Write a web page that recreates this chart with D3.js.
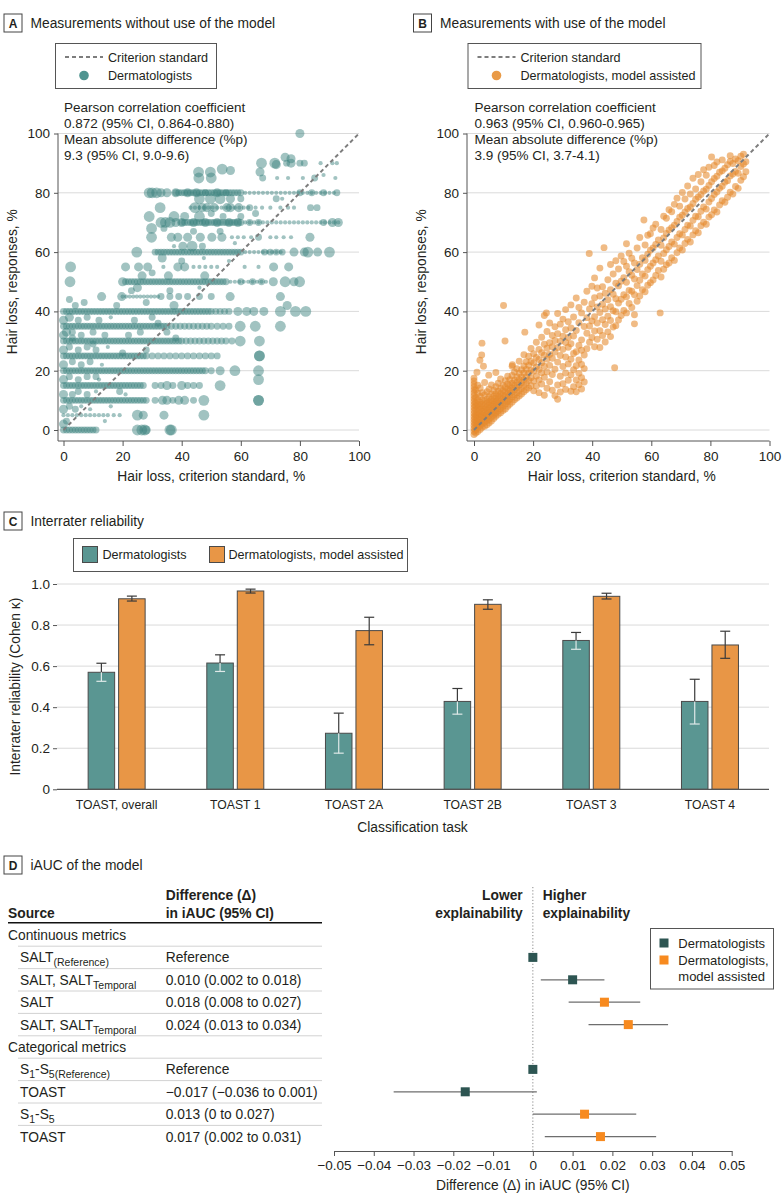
<!DOCTYPE html>
<html><head><meta charset="utf-8">
<script src="https://d3js.org/d3.v7.min.js"></script>
<style>html,body{margin:0;padding:0;background:#fff}svg{display:block}</style>
</head><body>
<svg id="chart" width="783" height="1203"></svg>
<script>
// ================= DATA =================
const scatterTicks = [0, 20, 40, 60, 80, 100];
const statsA = ["Pearson correlation coefficient", "0.872 (95% CI, 0.864-0.880)", "Mean absolute difference (%p)", "9.3 (95% CI, 9.0-9.6)"];
const statsB = ["Pearson correlation coefficient", "0.963 (95% CI, 0.960-0.965)", "Mean absolute difference (%p)", "3.9 (95% CI, 3.7-4.1)"];

// Panel A: dense rows of responses [response %, overlap count, criterion % values]
const aDense = [
  [0, 2, [0,1,2,3,4,5,6,7,8,9,10,11]],
  [5, 1, [0,1.5,3,4.5,6,7.5,9,10.5,12,13.5,15,17,19]],
  [10, 2, [0,1,2,3,4,5,6,7,8,9,10,11,12,13,14,15,16,17,18,19,20,21,22,23,24,25,26,27,28]],
  [15, 2, [0,1,2,3,4,5,6,7,8,9,10,11,12,13,14,15,16,17,18,19,20,21,22,23,24,25,26,27]],
  [20, 2, [0,1,2,3,4,5,6,7,8,9,10,11,12,13,14,15,16,17,18,19,20,21,22,23,24,25,26,27,28,29,30,31,32,33,34,35,36,37,38,39,40,41,42,43,44,45,46,47,48]],
  [25, 2, [0,1,2,3,4,5,6,7,8,9,10,11,12,13,14,15,16,17,18,19,20,21,22,23,24,25,26,27,28,30,32,34,36,38,40,42,44,46,48]],
  [30, 2, [0,1,2,3,4,5,6,7,8,9,10,11,12,13,14,15,16,17,18,19,20,21,22,23,24,25,26,27,28,29,30,31,32,33,34,35,36,37,38,39,40,41.5,43,44.5,46,47.5,49,50.5,52,53.5,55]],
  [35, 2, [0,1,2,3,4,5,6,7,8,9,10,11,12,13,14,15,16,17,18,19,20,21,22,23,24,25,26,27,28,29,30,31,32,33,34,35,36.5,38,39.5,41,42.5,44,45.5,47,48.5,50]],
  [40, 2, [0,1,2,3,4,5,6,7,8,9,10,11,12,13,14,15,16,17,18,19,20,21,22,23,24,25,26,27,28,29,30,31,32,33,34,35,36,37,38,39,40,41,42,43,44,45,46,47,48,49,50,51.5,53,54.5]],
  [45, 1, [20,21.2,22.4,23.6,24.8,26,27.2,28.4,29.6,30.8,32]],
  [50, 2, [21,22,23,24,25,26,27,28,29,30,31,32,33,34,35,36,37,38,39,40,41,42,43,44,45,46,47,48,49,50,51,52,53,54,55]],
  [50, 1, [56.5,58,59.5,61,62.5,64,65.5,67,68.5]],
  [60, 2, [31,32,33,34,35,36,37,38,39,40,41,42,43,44,45,46,47,48,49,50,51,52,53,54,55,56,57,58,59,60]],
  [60, 1, [61.5,63,64.5,66,67.5,69,70.5,72,73.5]],
  [70, 2, [40,41,42,43,44,45,46,47,48,49,50,51,52,53,54,55,56,57,58,59,60]],
  [70, 1, [61.5,63,64.5,66,67.5,69,70.5,72,73.5,75,76.5,78,79.5,81,82.5,84,85.5,87,88.5,90,91.5,93]],
  [75, 1, [43,44.5,46,47.5,49,50.5,52,53.5,55,56.5,58,59.5,61,62.5]],
  [80, 2, [38,39,40,41,42,43,44,45,46,47,48,49,50,51,52,53,54,55,56,57,58,59,60]],
  [80, 1, [61.5,63,64.5,66,67.5,69,70.5,72,73.5,75,76.5,78,79.5,81,82.5,84,85.5,87,88.5,90,91.5]]
];
// Panel A: individual points [criterion %, response %, overlap count]
const aSparse = [
  [80,100,3],[75,92,3],[77,91.5,3],
  [67,90,4],[71.5,90,4],[72,89.5,3],[75.5,90,2],[77,90,3],[80,90,2],[81.5,90,2],[87,90,1],[91,90,1],[92.5,90,1],
  [66.5,87,3],[53.7,88,4],[56.5,87.5,3],[45.7,87,4],[49.7,87,4],
  [45.8,85,4],[50,85,4],[67.4,85,2],[72.3,85,1],[76,85,1],[81,85,1],[85,85,2],[92,85,1],[88,86,1],
  [29,80,4],[30,80,4],[31.5,80,4],[33,80,3],[35,80,3],[38,80,3],[42,80,3],[45,80,3],[48,80,2],[52,80,3],[55,80,2],[80,80,2],[84,80,2],[88,80,2],[92.5,80,2],
  [46,78,4],[49.7,78,4],[53,78,4],[56.5,78,3],[72,78,2],[74,78,1],[60,78,2],
  [32.7,75,4],[44.5,75,4],[47,75,3],[48.5,75,3],[51,75,3],[55.3,75,3],[56.5,75,3],[59.3,75,3],[67.2,75,1],[70,75,1],[73.4,75,1],[76,75,1],[78,75,1],[83.6,75,2],[85.8,75,2],[65,75,1],[63,75,2],
  [29,72,4],[37.4,72,4],[41,72,3],[46,72,4],[50,73,2],[54,72,2],[60,72,2],[65,73,2],
  [33,70,4],[34.5,70,4],[36,70,4],[38,70,3],[40,70,3],[44,70,3],[48,70,3],[52,70,3],[56,70,3],[59,70,3],[63,70,2],[66,70,2],[88,70,2],[91,70,3],[93,70,3],
  [29.8,68,4],[34,68,2],[44,67,2],[53,67,2],
  [29.8,65,4],[36.5,65,3],[38.7,65,3],[42,65,3],[46.3,65,3],[50.2,65,3],[53.6,65,3],[57,65,1],[59,65,1],[61,65,1],[63.5,65,1],[66,65,2],[70,65,1],[72,65,1],[74.5,65,1],[77,65,1],[83.4,65,3],
  [40.4,62,3],[43.5,62,4],[37.4,62,1],[47,62,2],[58,63,1],
  [24.8,60,4],[74,60,2],[78,60,3],[81.5,60,3],[82.7,60,4],[86,60,3],[90,60,4],[68,60,2],[70,60,2],[72,60,2],
  [33.4,58,3],[47.5,58,1],[40,57,2],[56,57,1],
  [2.4,55,4],[21,55,3],[25.4,55,3],[28.5,55,3],[33.8,55,1],[38.7,55,3],[41,55,3],[44,55,1],[46,55,1],[48,55,1],[50,55,1],[52,55,1],[61.3,55,1],[71.1,55,3],[76.2,55,3],[66,55,1],
  [26.6,52,3],[35.5,52,3],[47.8,52,3],[30,53,2],
  [2.2,50,4],[20,50,3],[71,50,3],[75,50,4],[78,50,3],[79.9,50,4],[60,50,2],[64,50,2],[67,50,2],
  [25,48,3],[46,48,1],[23,47,2],[36,47,2],
  [12.9,45,3],[19.7,45,3],[33,45,2],[36,45,2],[39,45,2],[42,45,2],[46,45,2],[50,45,2],[56.4,45,3],[73.4,45,3],
  [37.4,42,3],[75.7,42,3],[28,43,2],[18,42,2],
  [59,40,3],[62,40,3],[64.4,40,3],[67.8,40,3],[73.4,40,4],[78.5,40,4],[82,40,4],[56,40,2],
  [52,35,2],[54,35,2],[56,35,2],[59.8,35,4],[64.9,35,4],[73.4,35,4],
  [57,30,2],[59.8,30,4],[66.3,30,4],
  [50,25,2],[52,25,2],[66.3,25,4],[66.3,25,4],
  [50,20,2],[53,20,3],[58,20,4],[66,20,4],[66,17,4],
  [31,15,2],[33,15,2],[35,15,3],[37,15,2],[40,15,3],[42,15,2],[44,15,2],[46,15,2],[53,15,4],
  [31,10,2],[33.5,10,3],[35,10,3],[37,10,2],[39,10,3],[41,10,3],[44,10,2],[47.5,10,4],[66,10,4],[66,10,4],
  [25,5,4],[27,5,3],[34,5,3],[47.5,5,4],
  [25,0,4],[26.5,0,4],[27.5,0,4],[28,0,3],[36,0,4],[36.5,0,4],
  [0,2,3],[1,3,2],[0,7,3],[2,8,2],[4,7,2],[6,8,1],[9,7,1],[0,12,3],[3,12,2],[5,13,2],[8,12,2],[11,13,1],
  [0,17,3],[2,18,2],[5,17,2],[8,18,2],[12,17,1],[0,22,3],[3,23,2],[6,22,2],[9,23,2],[13,22,1],
  [0,27,3],[2,28,2],[5,27,2],[8,28,2],[11,27,2],[15,28,1],[0,32,3],[3,33,2],[6,32,2],[10,33,2],[14,32,2],
  [0,37,3],[2,38,3],[5,37,2],[8,38,2],[12,37,2],[16,38,1],[1,33,3],[3,31,2],[4,42,2],[2,44,2],[7,43,2],
  [10,29,2],[11,18,2],[20,26,2],[22,32,2],[26,33,2],[24,37,2],[30,38,2],[28,27,2],[32,36,2],[35,33,2],[38,31,2],
  [19,13,2],[21,12,1],[16,8,1],[14,3,1]
];
// Panel B: columns of [criterion %, response % values]
const bCols = [
  [0, [-1.5,-0.5,0.5,1.5,2.5,3.5,4.5,5.5,6.5,7.5,8.5,9.5,10.5,11.5,12.5,13.5,14.5,15.5,16.5,17.5]],
  [0.6, [-1,0,1.2,2.3,3.1,4.4,5.2,6.8,8.1,9.3,11,13.5]],
  [1.3, [-0.5,0.8,1.9,2.7,3.8,5,6.1,7.3,8.6,10.2,12.4,15.1]],
  [2.1, [0.2,1.4,2.5,3.3,4.6,5.5,6.9,8,9.4,11.3,14.2]],
  [2.8, [0.9,2.1,3,4.2,5.1,6.3,7.5,8.8,10.1,12.6]],
  [3.6, [1.3,2.6,3.7,4.8,5.9,7,8.2,9.7,11.8,16]],
  [4.4, [1.8,3.2,4.3,5.4,6.6,7.7,9,10.4,12.9]],
  [5.1, [2.4,3.6,4.9,6,7.3,8.4,9.6,11.2,13.8]],
  [5.9, [3,4.4,5.6,6.7,7.9,9.1,10.3,12.1,15.2]],
  [6.7, [3.9,5.1,6.3,7.4,8.6,9.9,11.4,13.3]],
  [7.4, [4.6,5.8,7.1,8.2,9.5,10.7,12.2,14.6,19.4]],
  [8.2, [5.3,6.5,7.8,9,10.2,11.6,13.1,15.8]],
  [9, [5.8,7.2,8.5,9.7,11,12.3,14,17.2]],
  [9.8, [6.6,8,9.3,10.6,11.8,13.2,15.1]],
  [10.6, [7.1,8.8,10.2,11.5,12.9,14.4,16.6]],
  [11.4, [8,9.6,11,12.4,13.8,15.5,18.1]],
  [12.1, [8.7,10.3,11.8,13.3,14.9,17]],
  [12.9, [9.4,11.1,12.7,14.2,15.8,18.4,21.5]],
  [13.7, [10.2,11.9,13.5,15.1,16.8,19.6]],
  [14.5, [10.8,12.6,14.3,16,17.9,20.7]],
  [15.3, [11.5,13.4,15.2,17,19.1,23.2]],
  [16.1, [12.1,14.1,16,17.9,20.3]],
  [16.9, [12.9,15,17,19.2,21.6,25.4]],
  [17.7, [13.6,15.8,18,20.4,23]],
  [18.5, [14.2,16.7,19.1,21.8,24.9]],
  [19.3, [14.9,17.6,20.2,23.1,27.5]],
  [20.2, [13.2,16.5,19.8,22.6,25.7]],
  [21.1, [14.8,18.2,21.3,24.5,29.6]],
  [22.0, [12.6,16.9,20.4,23.8,27.2,35.4]],
  [22.9, [15.5,19.3,22.7,26.1,31.3]],
  [23.8, [11.7,17.8,21.5,25.2,28.9,38.6]],
  [24.7, [14.1,19.6,23.9,27.6,33.2]],
  [25.6, [16.3,21.8,25.5,29.4,36.1]],
  [26.5, [13.4,18.7,24.2,28.1,31.9]],
  [27.4, [11.6,20.5,26.3,30.2,34.8]],
  [28.3, [10.4,15.2,22.9,27.8,32.5,39.3]],
  [29.2, [12.8,18.1,25.1,29.9,35.7]],
  [30.1, [15.6,21.4,27.2,31.6,37.4]],
  [31.0, [13.7,19.2,24.6,29.5,33.8,40.6]],
  [31.9, [16.8,22.3,27.9,31.2,36.5]],
  [32.8, [13.1,18.6,23.9,29.1,34.4,42.2]],
  [33.7, [14.6,20.3,25.8,31.7,38.1]],
  [34.6, [12.9,16.9,21.7,26.4,33.6,44.5]],
  [35.5, [15.3,19.1,23.6,28.5,36.2,41.3]],
  [36.4, [13.8,17.6,22.1,26.9,30.4,39.5]],
  [37.3, [16.2,20.7,25.3,34.9,43.1]],
  [38.2, [27.4,32.6,37.9,46.8]],
  [39.1, [29.6,35.1,40.8]],
  [39.9, [31.2,36.8,42.6,48.5]],
  [40.8, [28.1,33.4,38.2,44.6,51.3]],
  [41.7, [30.6,36.1,41.5,47.9]],
  [42.6, [27.8,33.5,39.6,45.2,54.6]],
  [43.5, [31.9,37.2,42.4,48.3]],
  [44.4, [29.7,35.6,40.8,46.1]],
  [45.3, [33.1,38.4,43.9,50.7]],
  [46.2, [31.5,36.9,41.6,47.3,55.8]],
  [47.1, [34.7,40.2,45.8,52.6]],
  [48.0, [35.2,39.9,44.3,49.5,57.1]],
  [48.9, [37.1,42.8,48.6,54.3]],
  [49.8, [38.6,44.1,50.2,58.7]],
  [50.7, [40.3,45.6,51.4,56.8]],
  [51.6, [39.5,44.9,49.8,55.2,62.8]],
  [52.5, [42.7,47.1,53.4,59.6]],
  [53.4, [41.3,46.8,52.2,57.9]],
  [54.3, [35.8,38.9,45.6,50.9,56.3]],
  [55.2, [43.4,48.7,54.1,61.4]],
  [56.1, [45.2,50.5,55.9,64.9]],
  [57.0, [47.3,52.6,58.1]],
  [57.9, [46.6,51.9,57.2,62.4]],
  [58.8, [48.8,54.1,59.3,65.7]],
  [59.7, [49.7,55.2,60.6,66.2]],
  [60.6, [50.6,56.3,61.4,68.1]],
  [61.5, [52.1,57.4,62.6,69.4]],
  [62.4, [53.8,58.7,64.1]],
  [63.3, [51.6,56.9,62.3,67.6]],
  [64.2, [54.2,59.5,64.8,72.1]],
  [65.1, [55.7,60.8,66.3,71.4]],
  [66.0, [56.3,61.9,67.5,74.3]],
  [66.9, [58.1,63.4,68.2,73.6]],
  [67.8, [57.2,62.7,69.1,76.1]],
  [68.7, [59.8,64.9,70.3,78.2]],
  [69.6, [61.4,66.2,71.8,75.5]],
  [70.5, [60.7,65.8,72.4,80.1]],
  [71.4, [62.9,67.6,73.5,77.9]],
  [72.3, [64.3,69.1,74.7,82.3]],
  [73.2, [63.4,68.8,75.2,79.6]],
  [74.1, [65.8,70.7,76.4,84.9]],
  [75.0, [67.2,72.1,77.8,81.3]],
  [75.9, [66.5,71.9,78.6,86.2]],
  [76.8, [68.9,73.8,79.4,83.7]],
  [77.7, [70.1,75.2,80.6,87.8]],
  [78.6, [69.4,74.5,81.2,85.9]],
  [79.5, [71.8,76.9,82.5,88.6]],
  [80.4, [72.6,78.1,83.7,92.1]],
  [81.3, [74.2,79.4,84.8,89.2]],
  [82.2, [73.5,80.3,85.6,90.4]],
  [83.1, [75.9,81.5,86.9]],
  [84.0, [77.3,82.2,87.4,91.1]],
  [84.9, [76.8,83.6,88.3]],
  [85.8, [78.5,84.1,89.5]],
  [86.7, [80.2,85.7,90.6,92.5]],
  [87.6, [79.6,86.3,89.9]],
  [88.5, [82.1,87.2,91.4]],
  [89.4, [81.5,86.6,90.8]],
  [90.3, [84.2,88.9,92.3]],
  [91.2, [85.4,89.7,93]],
  [92.0, [87.1,90.5]]
];
// Panel B: isolated points [criterion %, response %]
const bOut = [[2,23.5],[2.6,25.3],[2.7,29.3],[3.2,21.5],[1,19.5],[10.5,30],[10,42],[5,18.5],[13,22],[17.2,33],[24.5,39.5],[47.6,21],[63,39.5],[39,59.5],[44,61.5],[57.5,70.8]];

// Panel C
const tasks = ["TOAST, overall", "TOAST 1", "TOAST 2A", "TOAST 2B", "TOAST 3", "TOAST 4"];
const groups = ["Dermatologists", "Dermatologists, model assisted"];
const kDerm   = [0.570, 0.615, 0.273, 0.428, 0.725, 0.428];
const kDermLo = [0.526, 0.574, 0.176, 0.366, 0.682, 0.318];
const kDermHi = [0.614, 0.655, 0.371, 0.491, 0.764, 0.536];
const kModel   = [0.928, 0.966, 0.773, 0.901, 0.940, 0.703];
const kModelLo = [0.917, 0.956, 0.704, 0.877, 0.927, 0.638];
const kModelHi = [0.941, 0.975, 0.838, 0.923, 0.955, 0.770];
const cTicks = [0, 0.2, 0.4, 0.6, 0.8, 1.0];

// Panel D
const dLabel = [
  [["Continuous metrics", 0]],
  [["SALT", 0], ["(Reference)", 1]],
  [["SALT, SALT", 0], ["Temporal", 1]],
  [["SALT", 0]],
  [["SALT, SALT", 0], ["Temporal", 1]],
  [["Categorical metrics", 0]],
  [["S", 0], ["1", 1], ["-S", 0], ["5(Reference)", 1]],
  [["TOAST", 0]],
  [["S", 0], ["1", 1], ["-S", 0], ["5", 1]],
  [["TOAST", 0]]
];
const dHeading = [true, false, false, false, false, true, false, false, false, false];
const dText = ["", "Reference", "0.010 (0.002 to 0.018)", "0.018 (0.008 to 0.027)", "0.024 (0.013 to 0.034)", "", "Reference", "−0.017 (−0.036 to 0.001)", "0.013 (0 to 0.027)", "0.017 (0.002 to 0.031)"];
const dEst = [null, 0, 0.010, 0.018, 0.024, null, 0, -0.017, 0.013, 0.017];
const dLo  = [null, null, 0.002, 0.009, 0.014, null, null, -0.035, 0.000, 0.003];
const dHi  = [null, null, 0.018, 0.027, 0.034, null, null, 0.001, 0.026, 0.031];
const dGroup = [null, 0, 0, 1, 1, null, 0, 0, 1, 1];
const dTicks = [-0.05, -0.04, -0.03, -0.02, -0.01, 0, 0.01, 0.02, 0.03, 0.04, 0.05];

// ================= DRAWING =================
const FONT = '"Liberation Sans", Arial, sans-serif';
const INK = "#231f20";
const AXIS = "#555";
const svg = d3.select("#chart").attr("font-family", FONT);

function txt(g, x, y, s, size, opts = {}) {
  return g.append("text").attr("x", x).attr("y", y).attr("font-size", size)
    .attr("fill", INK).attr("text-anchor", opts.anchor || "start")
    .attr("font-weight", opts.weight || 400).text(s);
}
function header(letter, x, y, title) {
  svg.append("rect").attr("x", x + 0.5).attr("y", y + 0.5).attr("width", 18).attr("height", 18)
    .attr("fill", "#fff").attr("stroke", "#444").attr("stroke-width", 1);
  txt(svg, x + 9.5, y + 14, letter, 12, { anchor: "middle", weight: 700 });
  txt(svg, x + 27, y + 14.5, title, 13.8);
}
header("A", 3.5, 13.5, "Measurements without use of the model");
header("B", 413, 13.5, "Measurements with use of the model");
header("C", 3.5, 511.5, "Interrater reliability");
header("D", 3.5, 855.5, "iAUC of the model");

function styleAxis(a, size) {
  a.attr("font-family", FONT).attr("font-size", size);
  a.selectAll(".tick line").attr("stroke", AXIS);
  a.selectAll(".tick text").attr("fill", INK);
}

function scatterPanel(o) {
  const x = d3.scaleLinear().domain([0, 100]).range([o.x0, o.x0 + 295.5]);
  const y = d3.scaleLinear().domain([0, 100]).range([430, 133.5]);
  const r = d3.scaleSqrt().domain([1, 4]).range([2.1, 5.4]);
  const g = svg.append("g");
  g.append("g").selectAll("line").data(scatterTicks).join("line")
    .attr("x1", o.axisX).attr("x2", x(100)).attr("y1", d => y(d)).attr("y2", d => y(d))
    .attr("stroke", "#dadada").attr("stroke-width", 1);
  g.append("g").selectAll("circle").data(o.points).join("circle")
    .attr("cx", d => x(d[0])).attr("cy", d => y(d[1])).attr("r", d => r(d[2]))
    .attr("fill", o.color).attr("fill-opacity", o.alpha);
  g.append("line").attr("x1", x(0)).attr("y1", y(0)).attr("x2", x(100)).attr("y2", y(100))
    .attr("stroke", "#7d7d7d").attr("stroke-width", 2).attr("stroke-dasharray", "4,3");
  const ya = g.append("g").attr("transform", `translate(${o.axisX},0)`)
    .call(d3.axisLeft(y).tickValues(scatterTicks).tickSize(4).tickPadding(4).tickSizeOuter(0));
  ya.select(".domain").remove();
  styleAxis(ya, 13.5);
  const xa = g.append("g").attr("transform", "translate(0,441)")
    .call(d3.axisBottom(x).tickValues(scatterTicks).tickSize(5).tickPadding(5).tickSizeOuter(0));
  xa.select(".domain").remove();
  styleAxis(xa, 13.5);
  g.append("line").attr("x1", o.axisX).attr("x2", o.axisX).attr("y1", y(100)).attr("y2", 441).attr("stroke", AXIS);
  g.append("line").attr("x1", o.axisX).attr("x2", x(100)).attr("y1", 441).attr("y2", 441).attr("stroke", AXIS);
  txt(g, (x(0) + x(100)) / 2, 481, "Hair loss, criterion standard, %", 13.8, { anchor: "middle" });
  txt(g, 0, 0, "Hair loss, responses, %", 13.8, { anchor: "middle" })
    .attr("transform", `translate(${o.axisX - 41},${(y(0) + y(100)) / 2}) rotate(-90)`);
  const L = o.legend;
  g.append("rect").attr("x", L.x + 0.5).attr("y", 43.5).attr("width", L.w).attr("height", 45)
    .attr("fill", "#fff").attr("stroke", "#555").attr("stroke-width", 1);
  g.append("line").attr("x1", L.x + 10).attr("x2", L.x + 48).attr("y1", 57).attr("y2", 57)
    .attr("stroke", "#7d7d7d").attr("stroke-width", 2).attr("stroke-dasharray", "4,3");
  txt(g, L.x + 53, 61.5, "Criterion standard", 12.6);
  g.append("circle").attr("cx", L.x + 29).attr("cy", 75.5).attr("r", 4.8).attr("fill", o.legendColor);
  txt(g, L.x + 53, 80, o.label, 12.6);
  o.stats.forEach((s, i) => txt(g, x(0) + 0.5, 112 + i * 16, s, 13.5));
}

const aPoints = [];
aDense.forEach(([yy, n, xs]) => xs.forEach(xx => aPoints.push([xx, yy, n])));
aSparse.forEach(p => aPoints.push(p));
scatterPanel({ x0: 63.5, axisX: 58, points: aPoints, color: "#3a827e", alpha: 0.48,
  legend: { x: 55, w: 161 }, legendColor: "#4f9490", label: "Dermatologists", stats: statsA });

const bPoints = [];
bCols.forEach(([xx, ys]) => ys.forEach(yy => bPoints.push([xx, yy, 2])));
bOut.forEach(([xx, yy]) => bPoints.push([xx, yy, 2]));
scatterPanel({ x0: 474, axisX: 467, points: bPoints, color: "#e58a2c", alpha: 0.58,
  legend: { x: 467.5, w: 233 }, legendColor: "#e99a46", label: "Dermatologists, model assisted", stats: statsB });

// ---------- Panel C ----------
(function () {
  const g = svg.append("g");
  const colors = ["#5a9692", "#e89646"];
  const xC = d3.scaleBand().domain(tasks).range([57.3, 769.3]);
  const xSub = d3.scaleBand().domain(groups).range([0, 57]).paddingInner(0.13);
  const off = (xC.bandwidth() - 57) / 2;
  const yC = d3.scaleLinear().domain([0, 1]).range([789.3, 584]);
  g.append("g").selectAll("line").data(cTicks.filter(d => d > 0)).join("line")
    .attr("x1", 57).attr("x2", 769).attr("y1", d => yC(d)).attr("y2", d => yC(d))
    .attr("stroke", "#dadada");
  const ya = g.append("g").attr("transform", "translate(57,0)")
    .call(d3.axisLeft(yC).tickValues(cTicks).tickSize(4).tickPadding(3).tickSizeOuter(0)
      .tickFormat(d => d === 0 ? "0" : d3.format(".1f")(d)));
  ya.select(".domain").remove();
  styleAxis(ya, 13.5);
  const rows = [];
  tasks.forEach((t, i) => {
    rows.push({ t, gi: 0, v: kDerm[i], lo: kDermLo[i], hi: kDermHi[i] });
    rows.push({ t, gi: 1, v: kModel[i], lo: kModelLo[i], hi: kModelHi[i] });
  });
  const bx = d => xC(d.t) + off + xSub(groups[d.gi]);
  g.append("g").selectAll("rect").data(rows).join("rect")
    .attr("x", d => bx(d)).attr("y", d => yC(d.v)).attr("width", xSub.bandwidth())
    .attr("height", d => yC(0) - yC(d.v)).attr("fill", d => colors[d.gi])
    .attr("stroke", "#4a4a4a").attr("stroke-width", 1);
  const eb = g.append("g");
  rows.forEach(d => {
    const cx = bx(d) + xSub.bandwidth() / 2;
    const inside = d.gi === 0 ? "#dfe9e8" : "#3a3a3a";
    eb.append("line").attr("x1", cx).attr("x2", cx).attr("y1", yC(d.hi)).attr("y2", yC(d.v)).attr("stroke", "#3a3a3a").attr("stroke-width", 1.2);
    eb.append("line").attr("x1", cx - 5).attr("x2", cx + 5).attr("y1", yC(d.hi)).attr("y2", yC(d.hi)).attr("stroke", "#3a3a3a").attr("stroke-width", 1.2);
    eb.append("line").attr("x1", cx).attr("x2", cx).attr("y1", yC(d.v)).attr("y2", yC(d.lo)).attr("stroke", inside).attr("stroke-width", 1.2);
    eb.append("line").attr("x1", cx - 5).attr("x2", cx + 5).attr("y1", yC(d.lo)).attr("y2", yC(d.lo)).attr("stroke", inside).attr("stroke-width", 1.2);
  });
  g.append("line").attr("x1", 57).attr("x2", 769).attr("y1", yC(0)).attr("y2", yC(0)).attr("stroke", AXIS).attr("stroke-width", 1.2);
  tasks.forEach(t => txt(g, xC(t) + xC.bandwidth() / 2, 808.5, t, 12.2, { anchor: "middle" }));
  txt(g, 412.5, 831.5, "Classification task", 13.8, { anchor: "middle" });
  txt(g, 0, 0, "Interrater reliability (Cohen κ)", 13.8, { anchor: "middle" })
    .attr("transform", `translate(20,${(yC(0) + yC(1)) / 2}) rotate(-90)`);
  g.append("rect").attr("x", 73.5).attr("y", 538.5).attr("width", 334).attr("height", 33)
    .attr("fill", "#fff").attr("stroke", "#555");
  const lx = [82, 209], tx = [102.5, 228.5];
  groups.forEach((s, i) => {
    g.append("rect").attr("x", lx[i] + 0.5).attr("y", 546.5).attr("width", 15).attr("height", 16)
      .attr("fill", colors[i]).attr("stroke", "#4a4a4a");
    txt(g, tx[i], 559, s, 12.6);
  });
})();

// ---------- Panel D ----------
(function () {
  const g = svg.append("g");
  const sqColors = ["#2d5552", "#f78a1f"];
  const rowY = d3.scalePoint().domain(d3.range(dLabel.length)).range([935, 1136.6]);
  const xD = d3.scaleLinear().domain([-0.05, 0.05]).range([334, 731.7]);
  txt(g, 8, 918, "Source", 13.8, { weight: 700 });
  txt(g, 165.7, 900, "Difference (Δ)", 13.8, { weight: 700 });
  txt(g, 165.7, 918, "in iAUC (95% CI)", 13.8, { weight: 700 });
  g.append("line").attr("x1", 8).attr("x2", 322).attr("y1", 922.7).attr("y2", 922.7).attr("stroke", "#111").attr("stroke-width", 1.5);
  g.append("g").selectAll("line").data(d3.range(dLabel.length - 1)).join("line")
    .attr("x1", 18).attr("x2", 322)
    .attr("y1", i => (rowY(i) + rowY(i + 1)) / 2).attr("y2", i => (rowY(i) + rowY(i + 1)) / 2)
    .attr("stroke", "#d2d2d2").attr("stroke-width", 1);
  dLabel.forEach((parts, i) => {
    const t = g.append("text").attr("x", dHeading[i] ? 8 : 20).attr("y", rowY(i) + 5)
      .attr("font-size", 13.8).attr("fill", INK);
    let prevSub = false;
    parts.forEach(([s, sub]) => {
      const ts = t.append("tspan").text(s).attr("font-size", sub ? 10.5 : 13.8);
      if (sub && !prevSub) ts.attr("dy", 4);
      if (!sub && prevSub) ts.attr("dy", -4);
      prevSub = !!sub;
    });
    if (dText[i]) txt(g, 165.7, rowY(i) + 5, dText[i], 13.8);
  });
  g.append("line").attr("x1", xD(0)).attr("x2", xD(0)).attr("y1", 887).attr("y2", 1151)
    .attr("stroke", "#8a8a8a").attr("stroke-width", 1).attr("stroke-dasharray", "1.2,2");
  txt(g, 522.7, 900, "Lower", 13.8, { anchor: "end", weight: 700 });
  txt(g, 522.7, 918, "explainability", 13.8, { anchor: "end", weight: 700 });
  txt(g, 542.7, 900, "Higher", 13.8, { weight: 700 });
  txt(g, 542.7, 918, "explainability", 13.8, { weight: 700 });
  const idx = d3.range(dLabel.length).filter(i => dEst[i] !== null);
  g.append("g").selectAll("line").data(idx.filter(i => dLo[i] !== null)).join("line")
    .attr("x1", i => xD(dLo[i])).attr("x2", i => xD(dHi[i]))
    .attr("y1", i => rowY(i)).attr("y2", i => rowY(i))
    .attr("stroke", "#6e6e6e").attr("stroke-width", 1.3);
  g.append("g").selectAll("rect").data(idx).join("rect")
    .attr("x", i => xD(dEst[i]) - 4.5).attr("y", i => rowY(i) - 4.5)
    .attr("width", 9).attr("height", 9).attr("fill", i => sqColors[dGroup[i]]);
  const xa = g.append("g").attr("transform", "translate(0,1151)")
    .call(d3.axisBottom(xD).tickValues(dTicks).tickSize(5).tickPadding(4).tickSizeOuter(0)
      .tickFormat(d => d === 0 ? "0" : (d < 0 ? "−" : "") + Math.abs(d).toFixed(2)));
  xa.select(".domain").attr("stroke", AXIS);
  styleAxis(xa, 13.5);
  txt(g, xD(0), 1190, "Difference (Δ) in iAUC (95% CI)", 13.8, { anchor: "middle" });
  g.append("rect").attr("x", 650.5).attr("y", 928.5).attr("width", 123).attr("height", 60.5)
    .attr("fill", "#fff").attr("stroke", "#555");
  g.append("rect").attr("x", 659.5).attr("y", 938.5).attr("width", 9).attr("height", 9).attr("fill", sqColors[0]);
  g.append("rect").attr("x", 659.5).attr("y", 955.5).attr("width", 9).attr("height", 9).attr("fill", sqColors[1]);
  txt(g, 678.3, 948, "Dermatologists", 13);
  txt(g, 678.3, 965, "Dermatologists,", 13);
  txt(g, 678.3, 981, "model assisted", 13);
})();
</script>
</body></html>
